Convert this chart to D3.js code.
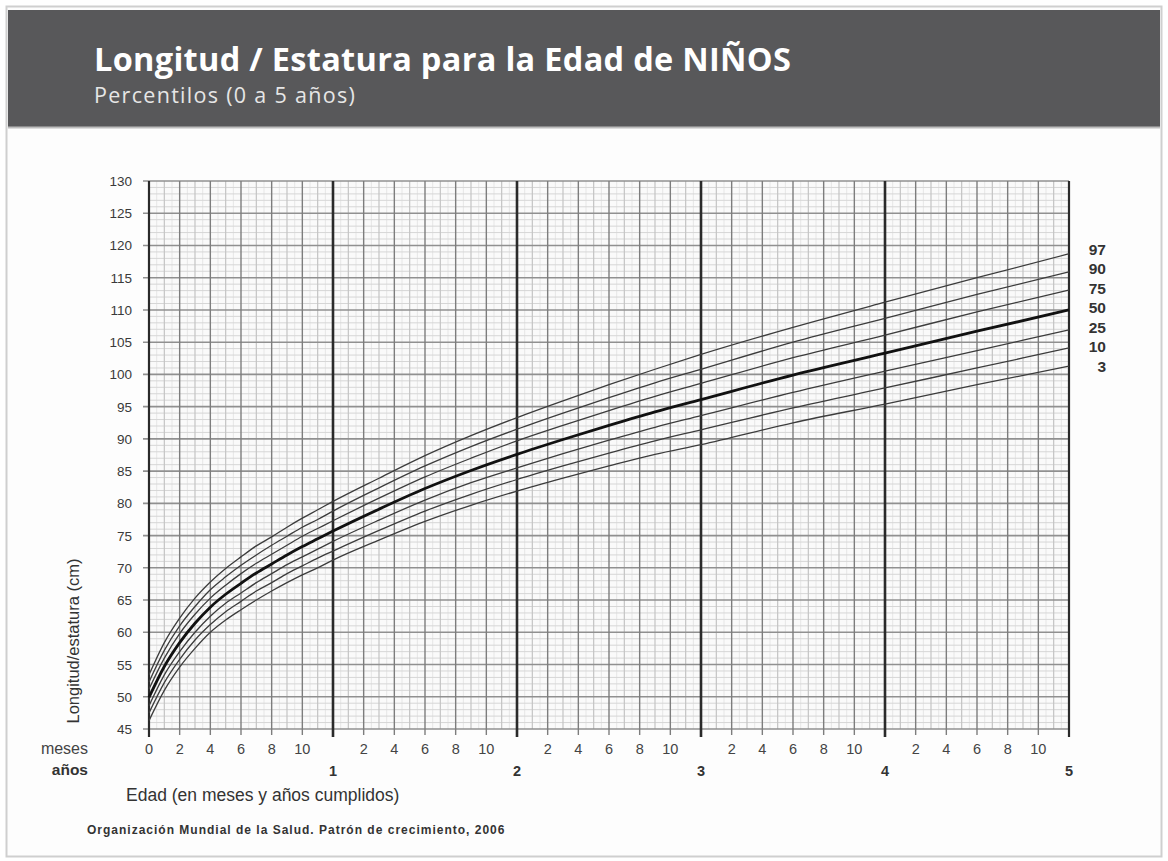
<!DOCTYPE html>
<html><head><meta charset="utf-8">
<script src="https://cdn.jsdelivr.net/npm/d3@7"></script>
<style>
html,body{margin:0;padding:0;background:#fff;}
svg{display:block;}
</style></head>
<body>
<svg id="chart" width="1168" height="861"></svg>
<script>
// ---- Data (WHO boys length/height-for-age) ----
const months = [0,1,2,3,4,5,6,7,8,9,10,11,12,15,18,21,24,27,30,33,36,42,48,54,60];
const p3  = [46.3,51.0,54.6,57.5,60.0,61.9,63.5,65.0,66.4,67.7,68.9,70.0,71.2,74.3,77.2,79.7,81.9,83.9,85.8,87.6,89.1,92.5,95.4,98.4,101.3];
const p10 = [47.5,52.2,55.8,58.8,61.2,63.2,64.8,66.4,67.7,69.1,70.3,71.5,72.6,75.8,78.8,81.4,83.7,85.8,87.8,89.7,91.4,94.8,97.9,101.0,104.1];
const p25 = [48.6,53.4,57.0,60.0,62.5,64.5,66.1,67.7,69.1,70.5,71.7,72.9,74.1,77.4,80.5,83.2,85.5,87.7,89.8,91.8,93.6,97.2,100.5,103.7,106.9];
const p50 = [49.9,54.7,58.4,61.4,63.9,65.9,67.6,69.2,70.6,72.0,73.3,74.5,75.7,79.1,82.3,85.1,87.6,89.9,92.1,94.2,96.1,99.9,103.3,106.7,110.0];
const p75 = [51.2,56.0,59.8,62.8,65.3,67.3,69.1,70.7,72.1,73.5,74.9,76.1,77.3,80.8,84.1,87.0,89.7,92.1,94.4,96.6,98.6,102.6,106.1,109.7,113.1];
const p90 = [52.3,57.2,61.0,64.0,66.6,68.6,70.4,72.0,73.5,74.9,76.3,77.5,78.8,82.4,85.8,88.8,91.5,94.0,96.4,98.7,100.8,105.0,108.7,112.4,115.9];
const p97 = [53.4,58.4,62.2,65.3,67.8,69.9,71.7,73.4,74.8,76.3,77.7,79.0,80.3,83.9,87.4,90.5,93.3,95.9,98.4,100.8,103.1,107.3,111.2,115.0,118.7];
const seriesNames = ["97","90","75","50","25","10","3"];
const seriesValues = [p97,p90,p75,p50,p25,p10,p3];
const yTicks = [45,50,55,60,65,70,75,80,85,90,95,100,105,110,115,120,125,130];
const monthTickLabels = ["0","2","4","6","8","10"];
const yearTickLabels = ["1","2","3","4","5"];
const title = "Longitud / Estatura para la Edad de NIÑOS";
const subtitle = "Percentilos (0 a 5 años)";
const yTitle = "Longitud/estatura (cm)";
const xTitle = "Edad (en meses y años cumplidos)";
const source = "Organización Mundial de la Salud. Patrón de crecimiento, 2006";

// ---- Layout ----
const svg = d3.select("#chart");
const pLeft = 149, pRight = 1069, pTop = 181, pBottom = 729;
const x = d3.scaleLinear().domain([0,60]).range([pLeft,pRight]);
const y = d3.scaleLinear().domain([45,130]).range([pBottom,pTop]);
const font = "'Liberation Sans', Arial, sans-serif";
const titleFont = "'Open Sans', 'Noto Sans', sans-serif";

// outer frame
svg.append("rect").attr("x",6.5).attr("y",6.5).attr("width",1155).attr("height",850)
  .attr("fill","#fdfdfd").attr("stroke","#cfcfcf").attr("stroke-width",2);
// header band
svg.append("rect").attr("x",8).attr("y",10).attr("width",1152).attr("height",117).attr("fill","#58585a");
svg.append("line").attr("x1",8).attr("x2",1160).attr("y1",127.5).attr("y2",127.5).attr("stroke","#bdbdbd").attr("stroke-width",2);
svg.append("text").attr("x",94).attr("y",71).attr("fill","#fff").attr("font-family",titleFont)
  .attr("font-weight","bold").attr("font-size",32.5).attr("letter-spacing",0.3).text(title);
svg.append("text").attr("x",94).attr("y",103).attr("fill","#e6e6e6").attr("font-family",titleFont)
  .attr("font-size",21.5).attr("letter-spacing",1.3).text(subtitle);

// ---- Grid ----
const g = svg.append("g");
g.append("rect").attr("x",pLeft).attr("y",pTop).attr("width",pRight-pLeft).attr("height",pBottom-pTop).attr("fill","#fafafa");
g.selectAll(".vh").data(d3.range(0.5,60,1)).enter().append("line")
  .attr("x1",d=>x(d)).attr("x2",d=>x(d)).attr("y1",pTop).attr("y2",pBottom)
  .attr("stroke","#e6e6e6").attr("stroke-width",1);
g.selectAll(".hm").data(d3.range(45,131,1).filter(v=>v%5!==0)).enter().append("line")
  .attr("x1",pLeft).attr("x2",pRight).attr("y1",d=>y(d)).attr("y2",d=>y(d))
  .attr("stroke","#d6d6d6").attr("stroke-width",1);
g.selectAll(".vm").data(d3.range(1,60,2)).enter().append("line")
  .attr("x1",d=>x(d)).attr("x2",d=>x(d)).attr("y1",pTop).attr("y2",pBottom)
  .attr("stroke","#c4c4c4").attr("stroke-width",1.2);
g.selectAll(".hM").data(yTicks).enter().append("line")
  .attr("x1",pLeft-6).attr("x2",pRight).attr("y1",d=>y(d)).attr("y2",d=>y(d))
  .attr("stroke","#909090").attr("stroke-width",1.6);
g.selectAll(".v2").data(d3.range(2,60,2).filter(m=>m%12!==0)).enter().append("line")
  .attr("x1",d=>x(d)).attr("x2",d=>x(d)).attr("y1",pTop).attr("y2",pBottom+6)
  .attr("stroke","#7d7d7d").attr("stroke-width",1.4);
g.selectAll(".vy").data(d3.range(0,61,12)).enter().append("line")
  .attr("x1",d=>x(d)).attr("x2",d=>x(d)).attr("y1",pTop).attr("y2",pBottom+8)
  .attr("stroke","#2a2a2a").attr("stroke-width",d=>(d===0||d===60)?2.2:2.6);

// ---- Y axis labels ----
svg.append("g").selectAll("text").data(yTicks).enter().append("text")
  .attr("x",132).attr("y",d=>y(d)+5).attr("text-anchor","end")
  .attr("font-family",font).attr("font-size",13.5).attr("fill","#3a3a3a").text(d=>d);
svg.append("text").attr("transform","translate(79,641) rotate(-90)").attr("text-anchor","middle")
  .attr("font-family",font).attr("font-size",16.5).attr("fill","#333").text(yTitle);

// ---- X axis labels ----
svg.append("text").attr("x",88).attr("y",754).attr("text-anchor","end").attr("font-family",font)
  .attr("font-size",16).attr("fill","#444").text("meses");
svg.append("text").attr("x",88).attr("y",775).attr("text-anchor","end").attr("font-family",font)
  .attr("font-size",15.5).attr("font-weight","bold").attr("fill","#333").text("años");
const mLabels = [];
for (let yr=0; yr<5; yr++) monthTickLabels.forEach((t,i)=>{ if(!(yr>0 && i===0)) mLabels.push({m:yr*12+i*2, t}); });
svg.append("g").selectAll("text").data(mLabels).enter().append("text")
  .attr("x",d=>x(d.m)).attr("y",754).attr("text-anchor","middle")
  .attr("font-family",font).attr("font-size",14.5).attr("fill","#444").text(d=>d.t);
svg.append("g").selectAll("text").data(yearTickLabels).enter().append("text")
  .attr("x",(d,i)=>x((i+1)*12)).attr("y",776).attr("text-anchor","middle")
  .attr("font-family",font).attr("font-size",14.5).attr("font-weight","bold").attr("fill","#333").text(d=>d);
svg.append("text").attr("x",126).attr("y",801).attr("font-family",font).attr("font-size",17.5)
  .attr("fill","#333").text(xTitle);
svg.append("text").attr("x",87).attr("y",834).attr("font-family",font).attr("font-size",12)
  .attr("letter-spacing",1.0).attr("font-weight","bold").attr("fill","#333").text(source);

// ---- Curves ----
const line = d3.line().x((d,i)=>x(months[i])).y(d=>y(d)).curve(d3.curveMonotoneX);
const cg = svg.append("g");
seriesValues.forEach((vals,k)=>{
  cg.append("path").datum(vals).attr("d",line).attr("fill","none")
    .attr("stroke", seriesNames[k]==="50" ? "#111" : "#3c3c3c")
    .attr("stroke-width", seriesNames[k]==="50" ? 2.8 : 1.3);
});

// ---- Right labels (spread to avoid overlap) ----
const ends = seriesValues.map((v,k)=>({name:seriesNames[k], py:y(v[v.length-1])}));
for (let k=ends.length-2; k>=0; k--) ends[k].py = Math.min(ends[k].py, ends[k+1].py - 19.5);
svg.append("g").selectAll("text").data(ends).enter().append("text")
  .attr("x",1106).attr("y",d=>d.py+5.5).attr("text-anchor","end")
  .attr("font-family",font).attr("font-size",15.5).attr("font-weight","bold").attr("fill","#333").text(d=>d.name);
</script>
</body></html>
